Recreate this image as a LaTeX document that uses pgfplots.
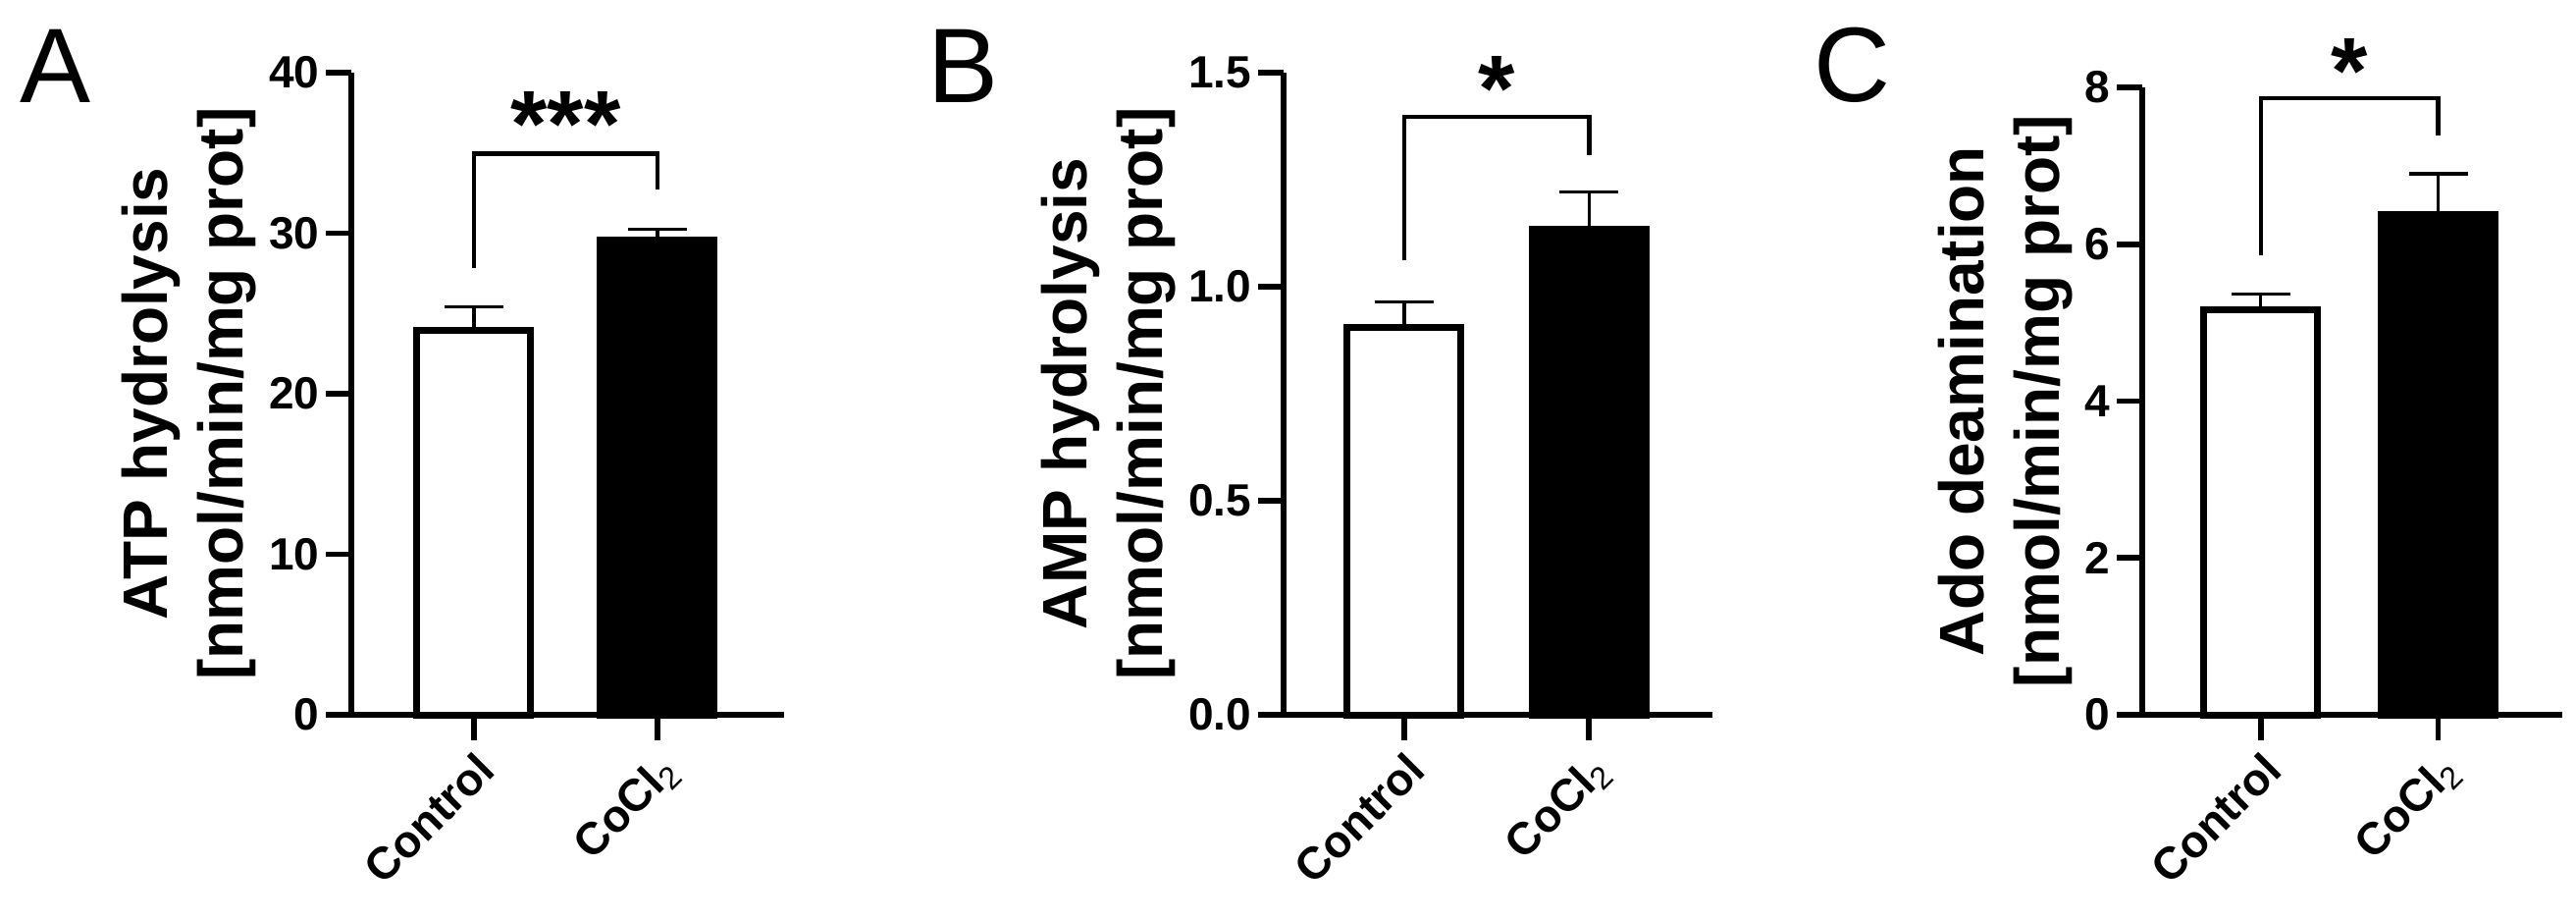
\documentclass[border=0pt]{standalone}
\usepackage{fontspec}
\setmainfont{Liberation Sans}
\usepackage{pgfplots}
\pgfplotsset{compat=1.18}

\newcommand\tickfont{\fontsize{11.5}{13}\selectfont\bfseries}
\newcommand\labfont{\fontsize{16}{19.25}\selectfont\bfseries}
\newcommand\starfont{\fontsize{24}{24}\selectfont\bfseries}
\newcommand\panelfont{\fontsize{27}{27}\selectfont}

\pgfplotsset{
  panel/.style={
    scale only axis, anchor=south west, clip=false,
    axis x line*=bottom, axis y line*=left,
    axis line style={-, line width=1.4pt},
    tick align=outside, major tick length=6.5pt,
    major tick style={black, line width=1.4pt},
    xtick={0,1}, xticklabels={Control, CoCl\textsubscript{\mdseries 2}},
    x tick label style={rotate=45, anchor=north east, font=\tickfont, inner sep=1.5pt},
    y tick label style={font=\tickfont, inner sep=1.5pt},
    ylabel style={align=center, font=\labfont, inner sep=1.5pt},
    /pgf/number format/assume math mode=true,
    ymin=0,
  },
  ctrl/.style={ybar, bar width=29pt, bar shift=0pt, fill=white, draw=black, line width=1.75pt,
    error bars/.cd, y dir=plus, y explicit,
    error bar style={line width=0.8pt, black},
    error mark options={rotate=90, line width=0.8pt, mark size=7.5pt, black}},
  coc/.style={ybar, bar width=29pt, bar shift=0pt, fill=black, draw=black, line width=1.75pt,
    error bars/.cd, y dir=plus, y explicit,
    error bar style={line width=0.8pt, black},
    error mark options={rotate=90, line width=0.8pt, mark size=7.5pt, black}},
  sig/.style={black, line width=1.15pt, sharp plot, mark=none},
}

\begin{document}
\begin{tikzpicture}
\useasboundingbox (0,0) rectangle (656.25pt,234pt);

% A
\node[anchor=base west, font=\panelfont, inner sep=0pt] at (5pt,208pt) {A};
\begin{axis}[panel, at={(89.5pt,52pt)}, width=110.25pt, height=163.5pt,
  xmin=-0.668, xmax=1.69, ymax=40, ytick={0,10,20,30,40},
  ylabel={ATP hydrolysis\\{[}nmol/min/mg prot{]}}]
  \addplot[ctrl] coordinates {(0,23.95) +- (0,1.45)};
  \addplot[coc] coordinates {(1,29.55) +- (0,0.72)};
  \addplot[sig] coordinates {(0,27.8) (0,34.95) (1,34.95) (1,32.7)};
  \node[font=\starfont, anchor=base, yshift=-10pt] at (axis cs:0.5,37.2) {***};
\end{axis}

% B
\node[anchor=base west, font=\panelfont, inner sep=0pt] at (236.25pt,208pt) {B};
\begin{axis}[panel, at={(327pt,52pt)}, width=109.25pt, height=163.5pt,
  xmin=-0.653, xmax=1.668, ymax=1.5, ytick={0,0.5,1,1.5},
  yticklabel style={/pgf/number format/.cd, fixed, fixed zerofill, precision=1},
  ylabel={AMP hydrolysis\\{[}nmol/min/mg prot{]}}]
  \addplot[ctrl] coordinates {(0,0.905) +- (0,0.060)};
  \addplot[coc] coordinates {(1,1.134) +- (0,0.087)};
  \addplot[sig] coordinates {(0,1.061) (0,1.397) (1,1.397) (1,1.308)};
  \node[font=\starfont, anchor=base, yshift=-10pt] at (axis cs:0.5,1.479) {*};
\end{axis}

% C
\node[anchor=base west, font=\panelfont, inner sep=0pt] at (462pt,208.25pt) {C};
\begin{axis}[panel, at={(545.75pt,52pt)}, width=107pt, height=159.75pt,
  xmin=-0.668, xmax=1.699, ymax=8, ytick={0,2,4,6,8},
  ylabel={Ado deamination\\{[}nmol/min/mg prot{]}}]
  \addplot[ctrl] coordinates {(0,5.17) +- (0,0.20)};
  \addplot[coc] coordinates {(1,6.38) +- (0,0.52)};
  \addplot[sig] coordinates {(0,5.854) (0,7.865) (1,7.865) (1,7.387)};
  \node[font=\starfont, anchor=base, yshift=-10pt] at (axis cs:0.5,8.30) {*};
\end{axis}
\end{tikzpicture}
\end{document}
